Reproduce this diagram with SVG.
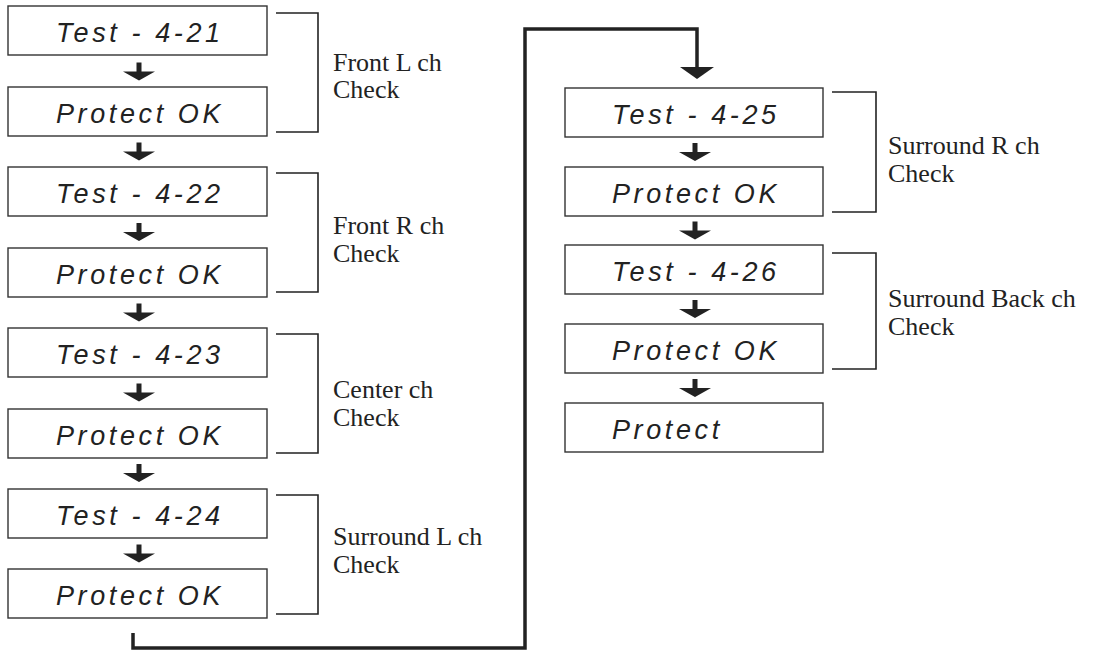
<svg xmlns="http://www.w3.org/2000/svg" width="1095" height="652" viewBox="0 0 1095 652">
<style>
.box{fill:#fff;stroke:#333;stroke-width:1.4}
.bt{font-family:"Liberation Sans",Arial,sans-serif;font-style:italic;font-size:27px;letter-spacing:3.6px;fill:#222}
.br{fill:none;stroke:#222;stroke-width:1.6}
.lb{font-family:"Liberation Serif","Times New Roman",serif;font-size:26px;fill:#222}
.ar{fill:#222}
.flow{fill:none;stroke:#222;stroke-width:3.5}
</style>
<defs>
<path id="sa" d="M-2.5,-9 H2.5 V0 H16 L0,9 L-16,0 H-2.5 Z"/>
</defs>
<g id="connectors">
<use href="#sa" class="ar" x="139" y="71.5"/>
<use href="#sa" class="ar" x="139" y="151.5"/>
<use href="#sa" class="ar" x="139" y="232"/>
<use href="#sa" class="ar" x="139" y="312.5"/>
<use href="#sa" class="ar" x="139" y="392.5"/>
<use href="#sa" class="ar" x="139" y="473"/>
<use href="#sa" class="ar" x="139" y="553.5"/>
<use href="#sa" class="ar" x="695" y="152"/>
<use href="#sa" class="ar" x="695" y="230.5"/>
<use href="#sa" class="ar" x="695" y="309"/>
<use href="#sa" class="ar" x="695" y="388"/>
<path class="flow" d="M133,633 V648 H525 V29 H697 V68"/>
<polygon class="ar" points="680,67 714,67 697,79"/>
</g>
<g id="n1"><rect class="box" x="8" y="6" width="259" height="49"/><text class="bt" x="56" y="42">Test - 4-21</text></g>
<g id="n2"><rect class="box" x="8" y="87" width="259" height="49"/><text class="bt" x="56" y="123">Protect OK</text></g>
<g id="n3"><rect class="box" x="8" y="167" width="259" height="49"/><text class="bt" x="56" y="203">Test - 4-22</text></g>
<g id="n4"><rect class="box" x="8" y="248" width="259" height="49"/><text class="bt" x="56" y="284">Protect OK</text></g>
<g id="n5"><rect class="box" x="8" y="328" width="259" height="49"/><text class="bt" x="56" y="364">Test - 4-23</text></g>
<g id="n6"><rect class="box" x="8" y="409" width="259" height="49"/><text class="bt" x="56" y="445">Protect OK</text></g>
<g id="n7"><rect class="box" x="8" y="489" width="259" height="49"/><text class="bt" x="56" y="525">Test - 4-24</text></g>
<g id="n8"><rect class="box" x="8" y="569" width="259" height="49"/><text class="bt" x="56" y="605">Protect OK</text></g>
<g id="n9"><rect class="box" x="565" y="88" width="258" height="49"/><text class="bt" x="612" y="124">Test - 4-25</text></g>
<g id="n10"><rect class="box" x="565" y="167" width="258" height="49"/><text class="bt" x="612" y="203">Protect OK</text></g>
<g id="n11"><rect class="box" x="565" y="245" width="258" height="49"/><text class="bt" x="612" y="281">Test - 4-26</text></g>
<g id="n12"><rect class="box" x="565" y="324" width="258" height="49"/><text class="bt" x="612" y="360">Protect OK</text></g>
<g id="n13"><rect class="box" x="565" y="403" width="258" height="49"/><text class="bt" x="612" y="439">Protect</text></g>
<g id="g1"><path class="br" d="M276,13 H318 V132 H276"/><text class="lb" x="333" y="71">Front L ch</text><text class="lb" x="333" y="98">Check</text></g>
<g id="g2"><path class="br" d="M276,173 H318 V292 H276"/><text class="lb" x="333" y="234">Front R ch</text><text class="lb" x="333" y="262">Check</text></g>
<g id="g3"><path class="br" d="M276,334 H318 V453 H276"/><text class="lb" x="333" y="398">Center ch</text><text class="lb" x="333" y="426">Check</text></g>
<g id="g4"><path class="br" d="M276,495 H318 V614 H276"/><text class="lb" x="333" y="545">Surround L ch</text><text class="lb" x="333" y="573">Check</text></g>
<g id="g5"><path class="br" d="M832,92 H876 V212 H832"/><text class="lb" x="888" y="154">Surround R ch</text><text class="lb" x="888" y="182">Check</text></g>
<g id="g6"><path class="br" d="M832,253 H876 V369 H832"/><text class="lb" x="888" y="307">Surround Back ch</text><text class="lb" x="888" y="335">Check</text></g>
</svg>
